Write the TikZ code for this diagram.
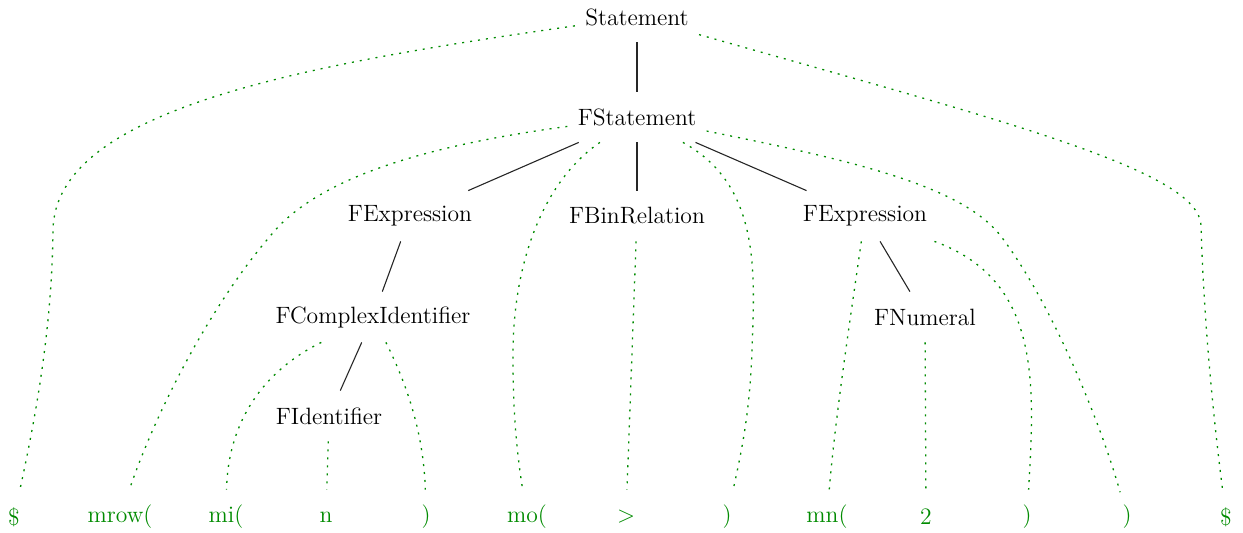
\documentclass[tikz,border=0pt]{standalone}
\definecolor{leafgreen}{RGB}{0,139,0}
\tikzset{
  inner/.style={minimum height=25pt, inner xsep=5pt, inner ysep=2pt},
  leaf/.style={text=leafgreen, minimum height=27pt, inner sep=1pt},
  tree/.style={black!85, line width=0.55pt},
  trace/.style={leafgreen, line width=0.65pt, dash pattern=on 1pt off 3pt},
}
\begin{document}
\begin{tikzpicture}[x=0.5pt, y=-0.5pt, font=\fontsize{11.8}{14}\selectfont]
  \useasboundingbox (0,0) rectangle (1243,532);
  \node[inner] (stmt) at (637,17) {Statement};
  \node[inner] (fstmt) at (637,117) {FStatement};
  \node[inner] (fexprl) at (410,216) {FExpression};
  \node[inner] (fbin) at (637,216) {FBinRelation};
  \node[inner] (fexprr) at (865,216) {FExpression};
  \node[inner] (fci) at (373,317) {FComplexIdentifier};
  \node[inner] (fid) at (329,416) {FIdentifier};
  \node[inner] (fnum) at (925,317) {FNumeral};
  \foreach \x/\t [count=\i] in {14/\$,120/mrow(,226/mi(,326/n,426/),527/mo(,626/>,727/),827/mn(,926/2,1027/),1127/),1226/\$} {
    \node[leaf] (l\i) at (\x,517) {\t};
  }
  % parse tree
  \draw[tree] (stmt) -- (fstmt);
  \draw[tree] (fstmt) -- (fexprl);
  \draw[tree] (fstmt) -- (fbin);
  \draw[tree] (fstmt) -- (fexprr);
  \draw[tree] (fexprl) -- (fci);
  \draw[tree] (fci) -- (fid);
  \draw[tree] (fexprr) -- (fnum);
  % tokens
  \draw[trace] (stmt) .. controls (300,65) and (55,110) .. (53,230) .. controls (52,330) and (35,420) .. (l1);
  \draw[trace] (stmt) .. controls (1000,120) and (1198,170) .. (1201,225) .. controls (1204,330) and (1215,430) .. (l13);
  \draw[trace] (fstmt) .. controls (430,145) and (330,175) .. (280,225) .. controls (220,290) and (160,400) .. (l2);
  \draw[trace] (fstmt) .. controls (545,180) and (512,260) .. (513,360) .. controls (513,420) and (518,460) .. (l6);
  \draw[trace] (fstmt) .. controls (760,185) and (755,270) .. (752,350) .. controls (750,410) and (742,450) .. (l8);
  \draw[trace] (fstmt) .. controls (850,160) and (960,185) .. (1000,235) .. controls (1050,300) and (1100,420) .. (l12);
  \draw[trace] (fci) .. controls (265,370) and (228,420) .. (l3);
  \draw[trace] (fci) .. controls (410,390) and (424,440) .. (l5);
  \draw[trace] (fid) -- (l4);
  \draw[trace] (fbin) -- (l7);
  \draw[trace] (fexprr) .. controls (850,320) and (835,420) .. (l9);
  \draw[trace] (fexprr) .. controls (1040,280) and (1035,380) .. (l11);
  \draw[trace] (fnum) -- (l10);
\end{tikzpicture}
\end{document}
